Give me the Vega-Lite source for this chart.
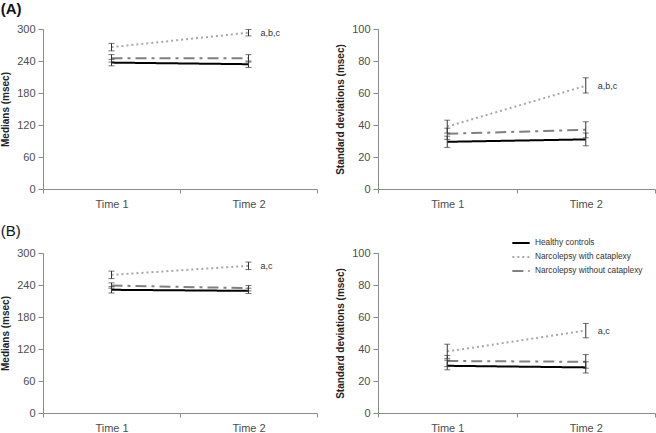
{
  "$schema": "https://vega.github.io/schema/vega-lite/v6.json",
  "background": "white",
  "padding": {"left": 0, "top": 2, "right": 2, "bottom": 2},
  "config": {
    "font": "Liberation Sans",
    "view": {"stroke": null},
    "concat": {"spacing": 17},
    "axis": {"grid": false, "labelOverlap": false, "labelFlush": false, "labelFont": "Liberation Sans", "labelColor": "#4d4d4d", "labelFontSize": 11, "domainColor": "#8c8c8c", "tickColor": "#8c8c8c", "titleFont": "Liberation Sans", "titleFontSize": 10, "titleFontWeight": "bold", "titleColor": "#222222"},
    "axisY": {"tickSize": 5, "labelPadding": 3, "titlePadding": 6},
    "axisX": {"tickBand": "extent", "tickSize": 4, "labelPadding": 5, "title": null, "labelAngle": 0},
    "title": {"font": "Liberation Sans", "anchor": "start", "color": "#111111", "offset": 6}
  },
  "datasets": {
    "d": [
      {"panel": "A-med", "time": "Time 1", "group": "Healthy controls", "v": 237, "lo": 231, "hi": 243},
      {"panel": "A-med", "time": "Time 2", "group": "Healthy controls", "v": 234, "lo": 228, "hi": 240},
      {"panel": "A-med", "time": "Time 1", "group": "Narcolepsy with cataplexy", "v": 266, "lo": 259, "hi": 273},
      {"panel": "A-med", "time": "Time 2", "group": "Narcolepsy with cataplexy", "v": 293, "lo": 287, "hi": 299, "ann": "a,b,c"},
      {"panel": "A-med", "time": "Time 1", "group": "Narcolepsy without cataplexy", "v": 245, "lo": 238, "hi": 252},
      {"panel": "A-med", "time": "Time 2", "group": "Narcolepsy without cataplexy", "v": 245, "lo": 238, "hi": 252},
      {"panel": "A-sd", "time": "Time 1", "group": "Healthy controls", "v": 29.5, "lo": 26, "hi": 33},
      {"panel": "A-sd", "time": "Time 2", "group": "Healthy controls", "v": 31, "lo": 27, "hi": 35},
      {"panel": "A-sd", "time": "Time 1", "group": "Narcolepsy with cataplexy", "v": 39, "lo": 35, "hi": 43},
      {"panel": "A-sd", "time": "Time 2", "group": "Narcolepsy with cataplexy", "v": 64.5, "lo": 60, "hi": 69.5, "ann": "a,b,c"},
      {"panel": "A-sd", "time": "Time 1", "group": "Narcolepsy without cataplexy", "v": 34.5, "lo": 31, "hi": 38},
      {"panel": "A-sd", "time": "Time 2", "group": "Narcolepsy without cataplexy", "v": 37, "lo": 32, "hi": 42},
      {"panel": "B-med", "time": "Time 1", "group": "Healthy controls", "v": 231, "lo": 225, "hi": 237},
      {"panel": "B-med", "time": "Time 2", "group": "Healthy controls", "v": 229, "lo": 224, "hi": 234},
      {"panel": "B-med", "time": "Time 1", "group": "Narcolepsy with cataplexy", "v": 259, "lo": 252, "hi": 266},
      {"panel": "B-med", "time": "Time 2", "group": "Narcolepsy with cataplexy", "v": 276, "lo": 269, "hi": 283, "ann": "a,c"},
      {"panel": "B-med", "time": "Time 1", "group": "Narcolepsy without cataplexy", "v": 239, "lo": 234, "hi": 244},
      {"panel": "B-med", "time": "Time 2", "group": "Narcolepsy without cataplexy", "v": 234, "lo": 229, "hi": 239},
      {"panel": "B-sd", "time": "Time 1", "group": "Healthy controls", "v": 29.5, "lo": 27, "hi": 33},
      {"panel": "B-sd", "time": "Time 2", "group": "Healthy controls", "v": 28.5, "lo": 25, "hi": 32},
      {"panel": "B-sd", "time": "Time 1", "group": "Narcolepsy with cataplexy", "v": 38.5, "lo": 34, "hi": 43},
      {"panel": "B-sd", "time": "Time 2", "group": "Narcolepsy with cataplexy", "v": 51.5, "lo": 47, "hi": 56, "ann": "a,c"},
      {"panel": "B-sd", "time": "Time 1", "group": "Narcolepsy without cataplexy", "v": 32.5, "lo": 29, "hi": 36},
      {"panel": "B-sd", "time": "Time 2", "group": "Narcolepsy without cataplexy", "v": 32, "lo": 28, "hi": 36.5}
    ]
  },
  "spacing": 15,
  "resolve": {"legend": {"color": "independent", "strokeDash": "independent", "strokeWidth": "independent"}},
  "vconcat": [
    {
      "title": {"text": "(A)", "fontSize": 15, "fontWeight": "bold"},
      "resolve": {"legend": {"color": "independent", "strokeDash": "independent", "strokeWidth": "independent"}},
      "hconcat": [
        {
          "width": 274, "height": 160,
          "data": {"name": "d"},
          "transform": [{"filter": "datum.panel === 'A-med'"}],
          "encoding": {"x": {"field": "time", "type": "nominal", "scale": {"paddingInner": 0, "paddingOuter": 0}}},
          "layer": [
            {"mark": {"type": "line"}, "encoding": {
              "y": {"field": "v", "type": "quantitative", "title": "Medians (msec)", "scale": {"domain": [0, 300], "nice": false}, "axis": {"values": [0, 60, 120, 180, 240, 300]}},
              "color": {"field": "group", "type": "nominal", "legend": null, "scale": {"domain": ["Healthy controls", "Narcolepsy with cataplexy", "Narcolepsy without cataplexy"], "range": ["#000000", "#a8a8a8", "#808080"]}},
              "strokeDash": {"field": "group", "type": "nominal", "legend": null, "scale": {"domain": ["Healthy controls", "Narcolepsy with cataplexy", "Narcolepsy without cataplexy"], "range": [[1, 0], [2, 3], [11, 5, 3, 5]]}},
              "strokeWidth": {"field": "group", "type": "nominal", "legend": null, "scale": {"domain": ["Healthy controls", "Narcolepsy with cataplexy", "Narcolepsy without cataplexy"], "range": [2, 2, 3]}}
            }},
            {"mark": {"type": "rule", "color": "#333333", "strokeWidth": 1}, "encoding": {"y": {"field": "lo", "type": "quantitative", "title": "Medians (msec)", "scale": {"domain": [0, 300], "nice": false}, "axis": {"values": [0, 60, 120, 180, 240, 300]}}, "y2": {"field": "hi"}}},
            {"mark": {"type": "tick", "color": "#333333", "size": 6, "thickness": 1, "orient": "horizontal"}, "encoding": {"y": {"field": "lo", "type": "quantitative", "title": "Medians (msec)", "scale": {"domain": [0, 300], "nice": false}, "axis": {"values": [0, 60, 120, 180, 240, 300]}}}},
            {"mark": {"type": "tick", "color": "#333333", "size": 6, "thickness": 1, "orient": "horizontal"}, "encoding": {"y": {"field": "hi", "type": "quantitative", "title": "Medians (msec)", "scale": {"domain": [0, 300], "nice": false}, "axis": {"values": [0, 60, 120, 180, 240, 300]}}}},
            {"transform": [{"filter": "datum.ann"}], "mark": {"type": "text", "align": "left", "dx": 12, "fontSize": 9, "color": "#333333"}, "encoding": {"y": {"field": "v", "type": "quantitative", "title": "Medians (msec)", "scale": {"domain": [0, 300], "nice": false}, "axis": {"values": [0, 60, 120, 180, 240, 300]}}, "text": {"field": "ann"}}}
          ]
        },
        {
          "width": 277, "height": 160,
          "data": {"name": "d"},
          "transform": [{"filter": "datum.panel === 'A-sd'"}],
          "encoding": {"x": {"field": "time", "type": "nominal", "scale": {"paddingInner": 0, "paddingOuter": 0}}},
          "layer": [
            {"mark": {"type": "line"}, "encoding": {
              "y": {"field": "v", "type": "quantitative", "title": "Standard deviations (msec)", "scale": {"domain": [0, 100], "nice": false}, "axis": {"values": [0, 20, 40, 60, 80, 100]}},
              "color": {"field": "group", "type": "nominal", "legend": null, "scale": {"domain": ["Healthy controls", "Narcolepsy with cataplexy", "Narcolepsy without cataplexy"], "range": ["#000000", "#a8a8a8", "#808080"]}},
              "strokeDash": {"field": "group", "type": "nominal", "legend": null, "scale": {"domain": ["Healthy controls", "Narcolepsy with cataplexy", "Narcolepsy without cataplexy"], "range": [[1, 0], [2, 3], [11, 5, 3, 5]]}},
              "strokeWidth": {"field": "group", "type": "nominal", "legend": null, "scale": {"domain": ["Healthy controls", "Narcolepsy with cataplexy", "Narcolepsy without cataplexy"], "range": [2, 2, 3]}}
            }},
            {"mark": {"type": "rule", "color": "#333333", "strokeWidth": 1}, "encoding": {"y": {"field": "lo", "type": "quantitative", "title": "Standard deviations (msec)", "scale": {"domain": [0, 100], "nice": false}, "axis": {"values": [0, 20, 40, 60, 80, 100]}}, "y2": {"field": "hi"}}},
            {"mark": {"type": "tick", "color": "#333333", "size": 6, "thickness": 1, "orient": "horizontal"}, "encoding": {"y": {"field": "lo", "type": "quantitative", "title": "Standard deviations (msec)", "scale": {"domain": [0, 100], "nice": false}, "axis": {"values": [0, 20, 40, 60, 80, 100]}}}},
            {"mark": {"type": "tick", "color": "#333333", "size": 6, "thickness": 1, "orient": "horizontal"}, "encoding": {"y": {"field": "hi", "type": "quantitative", "title": "Standard deviations (msec)", "scale": {"domain": [0, 100], "nice": false}, "axis": {"values": [0, 20, 40, 60, 80, 100]}}}},
            {"transform": [{"filter": "datum.ann"}], "mark": {"type": "text", "align": "left", "dx": 12, "fontSize": 9, "color": "#333333"}, "encoding": {"y": {"field": "v", "type": "quantitative", "title": "Standard deviations (msec)", "scale": {"domain": [0, 100], "nice": false}, "axis": {"values": [0, 20, 40, 60, 80, 100]}}, "text": {"field": "ann"}}}
          ]
        }
      ]
    },
    {
      "title": {"text": "(B)", "fontSize": 15, "fontWeight": "normal", "offset": -6},
      "resolve": {"legend": {"color": "independent", "strokeDash": "independent", "strokeWidth": "independent"}},
      "hconcat": [
        {
          "width": 274, "height": 160,
          "data": {"name": "d"},
          "transform": [{"filter": "datum.panel === 'B-med'"}],
          "encoding": {"x": {"field": "time", "type": "nominal", "scale": {"paddingInner": 0, "paddingOuter": 0}}},
          "layer": [
            {"mark": {"type": "line"}, "encoding": {
              "y": {"field": "v", "type": "quantitative", "title": "Medians (msec)", "scale": {"domain": [0, 300], "nice": false}, "axis": {"values": [0, 60, 120, 180, 240, 300]}},
              "color": {"field": "group", "type": "nominal", "legend": null, "scale": {"domain": ["Healthy controls", "Narcolepsy with cataplexy", "Narcolepsy without cataplexy"], "range": ["#000000", "#a8a8a8", "#808080"]}},
              "strokeDash": {"field": "group", "type": "nominal", "legend": null, "scale": {"domain": ["Healthy controls", "Narcolepsy with cataplexy", "Narcolepsy without cataplexy"], "range": [[1, 0], [2, 3], [11, 5, 3, 5]]}},
              "strokeWidth": {"field": "group", "type": "nominal", "legend": null, "scale": {"domain": ["Healthy controls", "Narcolepsy with cataplexy", "Narcolepsy without cataplexy"], "range": [2, 2, 3]}}
            }},
            {"mark": {"type": "rule", "color": "#333333", "strokeWidth": 1}, "encoding": {"y": {"field": "lo", "type": "quantitative", "title": "Medians (msec)", "scale": {"domain": [0, 300], "nice": false}, "axis": {"values": [0, 60, 120, 180, 240, 300]}}, "y2": {"field": "hi"}}},
            {"mark": {"type": "tick", "color": "#333333", "size": 6, "thickness": 1, "orient": "horizontal"}, "encoding": {"y": {"field": "lo", "type": "quantitative", "title": "Medians (msec)", "scale": {"domain": [0, 300], "nice": false}, "axis": {"values": [0, 60, 120, 180, 240, 300]}}}},
            {"mark": {"type": "tick", "color": "#333333", "size": 6, "thickness": 1, "orient": "horizontal"}, "encoding": {"y": {"field": "hi", "type": "quantitative", "title": "Medians (msec)", "scale": {"domain": [0, 300], "nice": false}, "axis": {"values": [0, 60, 120, 180, 240, 300]}}}},
            {"transform": [{"filter": "datum.ann"}], "mark": {"type": "text", "align": "left", "dx": 12, "fontSize": 9, "color": "#333333"}, "encoding": {"y": {"field": "v", "type": "quantitative", "title": "Medians (msec)", "scale": {"domain": [0, 300], "nice": false}, "axis": {"values": [0, 60, 120, 180, 240, 300]}}, "text": {"field": "ann"}}}
          ]
        },
        {
          "width": 277, "height": 160,
          "data": {"name": "d"},
          "transform": [{"filter": "datum.panel === 'B-sd'"}],
          "encoding": {"x": {"field": "time", "type": "nominal", "scale": {"paddingInner": 0, "paddingOuter": 0}}},
          "layer": [
            {"mark": {"type": "line"}, "encoding": {
              "y": {"field": "v", "type": "quantitative", "title": "Standard deviations (msec)", "scale": {"domain": [0, 100], "nice": false}, "axis": {"values": [0, 20, 40, 60, 80, 100]}},
              "color": {"field": "group", "type": "nominal", "title": null, "scale": {"domain": ["Healthy controls", "Narcolepsy with cataplexy", "Narcolepsy without cataplexy"], "range": ["#000000", "#a8a8a8", "#808080"]},
                "legend": {"orient": "none", "legendX": 133, "legendY": -20, "symbolType": "stroke", "symbolSize": 300, "labelFontSize": 8.3, "labelColor": "#333333", "rowPadding": 0, "labelOffset": 4, "symbolStrokeWidth": 2}},
              "strokeDash": {"field": "group", "type": "nominal", "title": null, "scale": {"domain": ["Healthy controls", "Narcolepsy with cataplexy", "Narcolepsy without cataplexy"], "range": [[1, 0], [2, 3], [11, 5, 3, 5]]}},
              "strokeWidth": {"field": "group", "type": "nominal", "title": null, "scale": {"domain": ["Healthy controls", "Narcolepsy with cataplexy", "Narcolepsy without cataplexy"], "range": [2, 2, 3]}}
            }},
            {"mark": {"type": "rule", "color": "#333333", "strokeWidth": 1}, "encoding": {"y": {"field": "lo", "type": "quantitative", "title": "Standard deviations (msec)", "scale": {"domain": [0, 100], "nice": false}, "axis": {"values": [0, 20, 40, 60, 80, 100]}}, "y2": {"field": "hi"}}},
            {"mark": {"type": "tick", "color": "#333333", "size": 6, "thickness": 1, "orient": "horizontal"}, "encoding": {"y": {"field": "lo", "type": "quantitative", "title": "Standard deviations (msec)", "scale": {"domain": [0, 100], "nice": false}, "axis": {"values": [0, 20, 40, 60, 80, 100]}}}},
            {"mark": {"type": "tick", "color": "#333333", "size": 6, "thickness": 1, "orient": "horizontal"}, "encoding": {"y": {"field": "hi", "type": "quantitative", "title": "Standard deviations (msec)", "scale": {"domain": [0, 100], "nice": false}, "axis": {"values": [0, 20, 40, 60, 80, 100]}}}},
            {"transform": [{"filter": "datum.ann"}], "mark": {"type": "text", "align": "left", "dx": 12, "fontSize": 9, "color": "#333333"}, "encoding": {"y": {"field": "v", "type": "quantitative", "title": "Standard deviations (msec)", "scale": {"domain": [0, 100], "nice": false}, "axis": {"values": [0, 20, 40, 60, 80, 100]}}, "text": {"field": "ann"}}}
          ]
        }
      ]
    }
  ]
}
